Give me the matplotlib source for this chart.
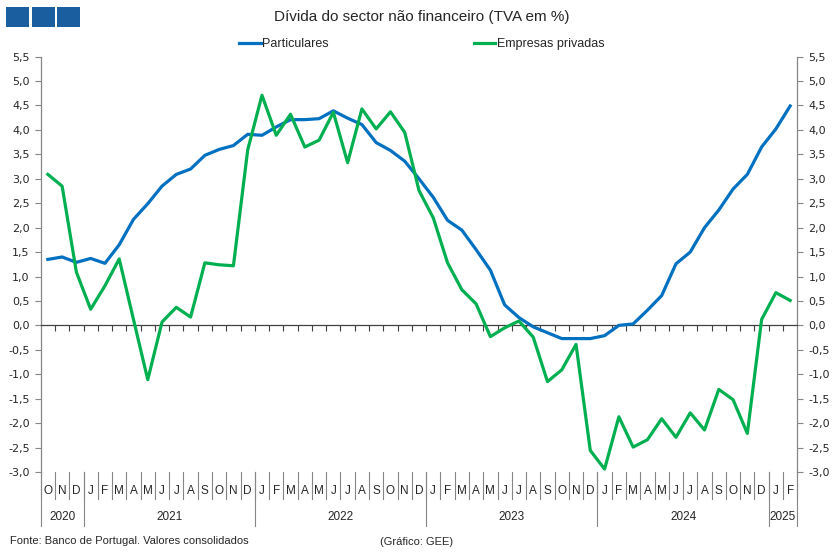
import matplotlib
matplotlib.use("Agg")
import matplotlib.pyplot as plt
import matplotlib.transforms as mtransforms
from matplotlib.patches import Rectangle
import numpy as np

plt.rcParams['font.family'] = ['Liberation Sans', 'DejaVu Sans']

# ---- data ----
months = ["O", "N", "D",
          "J", "F", "M", "A", "M", "J", "J", "A", "S", "O", "N", "D",
          "J", "F", "M", "A", "M", "J", "J", "A", "S", "O", "N", "D",
          "J", "F", "M", "A", "M", "J", "J", "A", "S", "O", "N", "D",
          "J", "F", "M", "A", "M", "J", "J", "A", "S", "O", "N", "D",
          "J", "F"]
years = ["2020", "2021", "2022", "2023", "2024", "2025"]
year_counts = [3, 12, 12, 12, 12, 2]

particulares = [1.35, 1.40, 1.29,
                1.37, 1.27, 1.65, 2.17, 2.49, 2.85, 3.09, 3.20, 3.48, 3.60, 3.68, 3.91,
                3.89, 4.06, 4.21, 4.21, 4.23, 4.39, 4.24, 4.11, 3.74, 3.58, 3.36, 3.00,
                2.62, 2.15, 1.95, 1.55, 1.13, 0.42, 0.16, -0.03, -0.15, -0.27, -0.27, -0.27,
                -0.21, 0.00, 0.03, 0.31, 0.61, 1.26, 1.50, 2.00, 2.36, 2.79, 3.09, 3.65,
                4.02, 4.49]
empresas = [3.09, 2.85, 1.09,
            0.33, 0.81, 1.36, 0.12, -1.11, 0.07, 0.37, 0.17, 1.28, 1.24, 1.22, 3.59,
            4.71, 3.89, 4.32, 3.65, 3.79, 4.36, 3.33, 4.43, 4.02, 4.37, 3.95, 2.76,
            2.20, 1.28, 0.73, 0.44, -0.23, -0.05, 0.09, -0.24, -1.15, -0.91, -0.39, -2.56,
            -2.94, -1.87, -2.49, -2.34, -1.91, -2.29, -1.79, -2.14, -1.31, -1.52, -2.21, 0.12,
            0.67, 0.51]
series_names = ["Particulares", "Empresas privadas"]
y_ticks = [-3.0, -2.5, -2.0, -1.5, -1.0, -0.5, 0.0, 0.5, 1.0, 1.5, 2.0, 2.5, 3.0, 3.5, 4.0, 4.5, 5.0, 5.5]

blue = "#0070C0"
green = "#00B050"
axis_col = "#868686"
text_col = "#262626"

W, H = 839, 559
fig = plt.figure(figsize=(W / 100, H / 100), dpi=100)
left, right, top, bottom = 40.7, 797.3, 56.6, 472.0
ax = fig.add_axes([left / W, 1 - bottom / H, (right - left) / W, (bottom - top) / H])

n = len(months)
x = np.arange(n) + 0.5
ax.plot(x, particulares, color=blue, lw=2.3, label=series_names[0], solid_joinstyle='round', zorder=3)
ax.plot(x, empresas, color=green, lw=2.3, label=series_names[1], solid_joinstyle='round', zorder=3)

ax.set_xlim(0, n)
ax.set_ylim(-3.0, 5.5)

# spines
ax.spines['top'].set_visible(False)
ax.spines['bottom'].set_position(('data', 0))
ax.spines['bottom'].set_color('#404040')
ax.spines['bottom'].set_linewidth(0.9)
for s in ['left', 'right']:
    ax.spines[s].set_color(axis_col)
    ax.spines[s].set_linewidth(0.9)

ax.set_xticks(np.arange(1, n))
ax.set_xticklabels([])
ax.tick_params(axis='x', direction='out', length=4, width=0.8, color='#404040')

ax.set_yticks(y_ticks)
ax.set_yticklabels([f"{v:.1f}".replace('.', ',') for v in y_ticks])
ax.tick_params(axis='y', direction='out', length=4, width=0.8, color=axis_col,
               labelsize=8, labelcolor=text_col, left=True, right=True,
               labelleft=True, labelright=True, pad=4)
for lab in ax.get_yticklabels():
    lab.set_family(['DejaVu Sans'])

# category axis labels
trans = mtransforms.blended_transform_factory(ax.transData, fig.transFigure)
y_axis_bottom = 1 - bottom / H
y_month = 1 - 491 / H
y_month_sep = 1 - 499 / H
y_year = 1 - 517 / H
y_year_sep = 1 - 526 / H
for i, m in enumerate(months):
    ax.text(i + 0.5, y_month, m, transform=trans, ha='center', va='center',
            fontsize=8.5, color=text_col, clip_on=False)
# month separators
for b in range(0, n + 1):
    ax.plot([b, b], [y_axis_bottom, y_month_sep], transform=trans, color=axis_col,
            lw=0.8, clip_on=False)
# year separators and labels
pos = 0
bounds = [0]
for yr, c in zip(years, year_counts):
    ax.text(pos + c / 2, y_year, yr, transform=trans, ha='center', va='center',
            fontsize=8.5, color=text_col, clip_on=False)
    pos += c
    bounds.append(pos)
for b in bounds:
    ax.plot([b, b], [y_axis_bottom, y_year_sep], transform=trans, color=axis_col,
            lw=0.8, clip_on=False)

# title and decorations
fig.text(422 / W, 1 - 17 / H, "Dívida do sector não financeiro (TVA em %)", ha='center', va='center',
         fontsize=11, color=text_col)
for x0 in [6, 32, 57]:
    fig.patches.append(Rectangle((x0 / W, 1 - 27 / H), 22.5 / W, 20 / H, transform=fig.transFigure,
                                 facecolor="#1A5EA0", edgecolor='none'))

fig.legend(loc='center', bbox_to_anchor=(422 / W, 1 - 44 / H), ncol=2, frameon=False,
           fontsize=9, handlelength=1.7, handletextpad=0.15, columnspacing=11.6,
           labelcolor=text_col)

fig.text(10 / W, 1 - 541 / H, "Fonte: Banco de Portugal. Valores consolidados", ha='left', va='center',
         fontsize=8, color=text_col)
fig.text(380 / W, 1 - 542 / H, "(Gráfico: GEE)", ha='left', va='center', fontsize=8, color=text_col)

fig.savefig("out.png", dpi=100)
